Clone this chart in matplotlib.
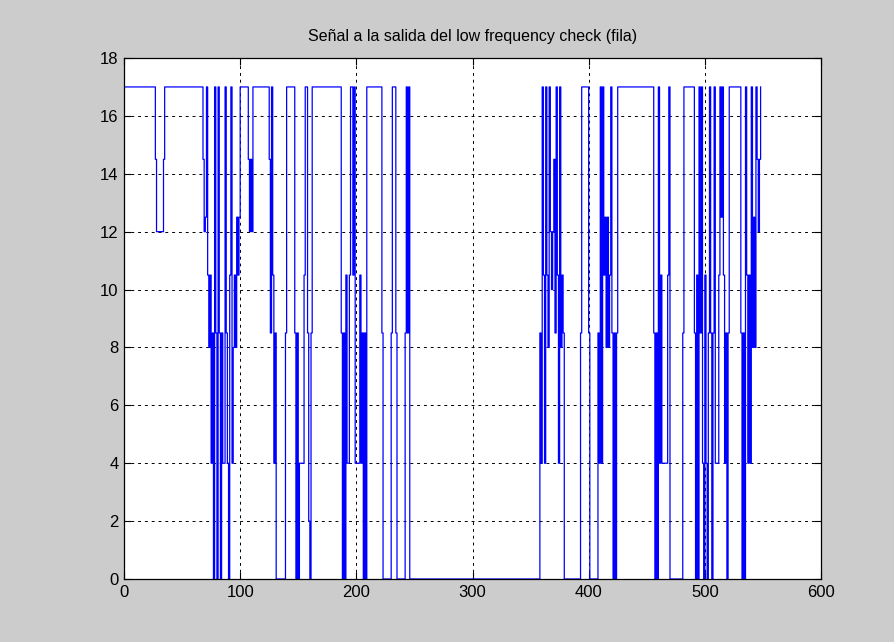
import matplotlib
matplotlib.use('Agg')
import matplotlib.pyplot as plt
import numpy as np

plt.rcParams['font.family'] = ['Liberation Sans', 'DejaVu Sans']

# signal levels and how many samples each level lasts
levels = [17, 14.5, 12, 14.5, 17,
          14.5, 12, 12.5, 17, 10.5, 8, 10.5, 4, 8.5, 0, 17, 8.5, 0, 17, 8.5, 0, 8.5, 4,
          17, 8.5, 4, 0, 10.5, 17, 4, 8, 10.5, 8, 12.5, 10.5, 12.5, 17,
          14.5, 12, 14.5, 12, 17,
          14.5, 8.5, 17, 10.5, 4, 8.5, 0, 8.5, 17,
          8.5, 0, 8.5, 0, 4, 10.5, 17, 8.5, 2, 0, 8.5, 17,
          8.5, 0, 8.5, 0, 10.5, 4, 10.5, 17, 10.5, 17, 4, 10.5, 4, 8.5, 0, 8.5, 0, 17,
          8.5, 0, 8.5, 17, 8.5, 0, 8.5, 17, 8.5, 17, 0,
          8.5, 4, 17, 10.5, 4, 17, 10.5, 8, 17, 12, 10, 12, 14.5, 8.5, 17, 10.5, 4, 17, 8, 10.5, 8.5, 0,
          8.5, 17, 8.5, 0,
          8.5, 4, 17, 4, 17, 10.5, 12.5, 8, 12.5, 8, 10.5, 17, 8.5, 0, 8.5, 0, 8.5, 17,
          8.5, 0, 8.5, 0, 17, 4, 10.5, 4, 10.5, 17, 0, 8.5, 17,
          8.5, 0, 10.5, 0, 17, 8.5, 17, 4, 0, 10.5, 4, 0, 8.5, 17, 8.5, 0, 8.5, 17,
          4, 10.5, 17, 12.5, 17, 10.5, 4, 8.5, 0, 8.5, 17,
          8.5, 0, 8.5, 0, 17, 10.5, 4, 10.5, 4, 17, 8, 12.5, 8, 17, 14.5, 12, 14.5, 17]
counts = [27, 1, 6, 1, 33,
          1, 1, 1, 1, 1, 1, 1, 1, 1, 1, 1, 1, 1, 1, 1, 1, 1, 2,
          1, 1, 1, 1, 1, 1, 1, 1, 1, 1, 1, 1, 1, 7,
          1, 1, 1, 1, 14,
          1, 1, 1, 1, 1, 1, 8, 1, 7,
          1, 1, 1, 1, 4, 1, 2, 1, 1, 1, 1, 25,
          1, 1, 1, 1, 1, 2, 1, 2, 1, 1, 4, 1, 1, 1, 1, 1, 1, 13,
          1, 7, 1, 3, 1, 7, 1, 1, 1, 1, 112,
          1, 1, 1, 1, 1, 1, 1, 1, 1, 1, 1, 1, 1, 1, 1, 1, 1, 1, 1, 1, 1, 14,
          1, 6, 1, 7,
          1, 1, 1, 1, 1, 1, 1, 1, 1, 1, 1, 1, 1, 1, 1, 1, 1, 31,
          1, 1, 1, 1, 1, 1, 1, 5, 1, 1, 11, 1, 9,
          1, 1, 1, 1, 1, 1, 1, 1, 1, 1, 1, 1, 1, 1, 1, 1, 1, 1,
          3, 1, 1, 1, 1, 1, 1, 1, 1, 1, 10,
          1, 1, 1, 1, 1, 1, 1, 1, 1, 1, 1, 1, 1, 1, 1, 1, 1, 1]

y = np.repeat(levels, counts)
x = np.arange(len(y))

fig = plt.figure(figsize=(8.94, 6.42), dpi=100, facecolor='#cccccc')
ax = fig.add_axes([124/894, 1 - 579/642, 697/894, 521/642])
ax.plot(x, y, color='#0000ff', lw=0.9, drawstyle='steps-post')

ax.set_xlim(0, 600)
ax.set_ylim(0, 18)
ax.set_xticks(np.arange(0, 601, 100))
ax.set_yticks(np.arange(0, 19, 2))
ax.grid(True, color='black', linestyle=(0, (3, 4)), linewidth=0.7)
ax.tick_params(direction='in', top=True, right=True, length=5, labelsize=12, pad=4)
for sp in ax.spines.values():
    sp.set_linewidth(0.9)

ax.set_title('Señal a la salida del low frequency check (fila)', fontsize=11.5, pad=12)

fig.savefig('out.png', dpi=100, facecolor=fig.get_facecolor())
